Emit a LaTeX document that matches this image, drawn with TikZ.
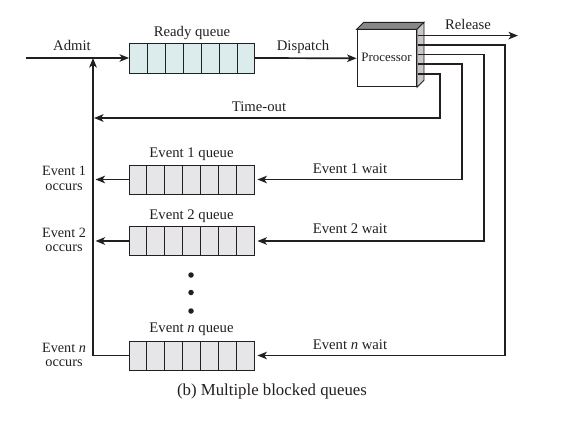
\documentclass[tikz,border=0pt]{standalone}
\usepackage{fontspec}
\setmainfont{Liberation Serif}
\usetikzlibrary{arrows.meta,calc}
\definecolor{ink}{RGB}{35,31,32}
\definecolor{readyfill}{RGB}{220,236,236}
\definecolor{eventfill}{RGB}{230,230,232}
\definecolor{topface}{RGB}{135,135,135}
\definecolor{sideface}{RGB}{200,200,200}
\tikzset{
  conn/.style={draw=ink, line width=1.7pt},
  arr/.style={conn, -{Stealth[length=9.5pt,width=7.5pt,inset=2.5pt]}},
  lbl/.style={text=ink, inner sep=0pt, anchor=base, font=\fontsize{14.7}{15}\selectfont},
  occ/.style={text=ink, inner sep=0pt, anchor=base, align=center, font=\fontsize{14.2}{14.6}\selectfont},
  queuebox/.style={draw=ink, line width=0.8pt, minimum width=125pt, minimum height=29pt, inner sep=0pt},
  dotmark/.style={circle, fill=ink, minimum size=5.5pt, inner sep=0pt},
}
\newcommand{\cellsof}[1]{%
  \foreach \k in {1,...,6} {
    \draw[ink, line width=0.8pt] ($(#1.south west)!\k/7!(#1.south east)$) -- ($(#1.north west)!\k/7!(#1.north east)$);
  }%
}
\begin{document}
\begin{tikzpicture}[x=1pt,y=-1pt]
\useasboundingbox (0,0) rectangle (571,423);

% queues
\node[queuebox, fill=readyfill, minimum height=30pt] (rq) at (192,58) {};
\cellsof{rq}
\node[queuebox, fill=eventfill] (q1) at (191.5,179.5) {};
\cellsof{q1}
\node[queuebox, fill=eventfill] (q2) at (191.5,241) {};
\cellsof{q2}
\node[queuebox, fill=eventfill] (qn) at (191.5,355.5) {};
\cellsof{qn}

% processor
\node[draw=ink, line width=0.9pt, fill=white, minimum width=59.5pt, minimum height=57pt, inner sep=0pt] (proc) at (386.8,58.3) {};
\coordinate (pa) at ($(proc.north west)+(7,-7)$);
\coordinate (pb) at ($(proc.north east)+(7,-7)$);
\coordinate (pc) at ($(proc.south east)+(7,-7)$);
\draw[ink, line width=0.9pt, fill=topface] (proc.north west) -- (pa) -- (pb) -- (proc.north east) -- cycle;
\draw[ink, line width=0.9pt, fill=sideface] (proc.north east) -- (pb) -- (pc) -- (proc.south east) -- cycle;
\node[text=ink, inner sep=0pt, anchor=base, font=\fontsize{12.9}{13}\selectfont] (proclbl) at (386.5,61.3) {Processor};

% processor outlets
\coordinate (oRel) at (418,35.6);
\coordinate (oN) at (418,45.2);
\coordinate (o2) at (418,54.6);
\coordinate (o1) at (418,64.3);
\coordinate (oT) at (418,73.8);
\coordinate (relEnd) at (518,35.6);
\coordinate (vtop) at (93,58);
\coordinate (vbot) at (93,355.5);
\coordinate (admitStart) at (26,58);

% connectors
\draw[arr] (admitStart) -- (rq.west);
\draw[arr] (rq.east) -- (proc.west);
\draw[arr] (oRel) -- (relEnd);
\draw[arr] (oT) -- (440,73.8) -- (440,118) -- (94,118);
\draw[arr, shorten >=3pt] (o1) -- (462,64.3) -- (462,179.5) -- (q1.east);
\draw[arr, shorten >=3pt] (o2) -- (484,54.6) -- (484,241) -- (q2.east);
\draw[arr, shorten >=3pt] (oN) -- (505,45.2) -- (505,355.5) -- (qn.east);
\draw[arr] (q1.west) -- (95.5,179.5);
\draw[arr] (q2.west) -- (95.5,241);
\draw[arr] (qn.west) -- (vbot) -- (vtop);

% labels
\node[lbl] (admit) at (72,50.7) {Admit};
\node[lbl] (rqlbl) at (192,36) {Ready queue};
\node[lbl] (disp) at (303,50.7) {Dispatch};
\node[lbl] (rel) at (468,30) {Release};
\node[lbl] (tout) at (259,111.7) {Time-out};
\node[lbl] (q1lbl) at (191.5,157) {Event 1 queue};
\node[lbl] (q2lbl) at (191.5,219) {Event 2 queue};
\node[lbl] (qnlbl) at (191.5,332.7) {Event \textit{n} queue};
\node[lbl] (w1) at (350,173.3) {Event 1 wait};
\node[lbl] (w2) at (350,233.3) {Event 2 wait};
\node[lbl] (wn) at (350,349.3) {Event \textit{n} wait};
\node[occ] (oc1) at (64,190) {Event 1\\occurs};
\node[occ] (oc2) at (64,251.7) {Event 2\\occurs};
\node[occ] (ocn) at (64,366.7) {Event \textit{n}\\occurs};

% dots
\node[dotmark] (d1) at (191,275) {};
\node[dotmark] (d2) at (191,292.5) {};
\node[dotmark] (d3) at (191,311) {};

% caption
\node[text=ink, inner sep=0pt, anchor=base, font=\fontsize{16.8}{17}\selectfont] (cap) at (272,395) {(b) Multiple blocked queues};
\end{tikzpicture}
\end{document}
